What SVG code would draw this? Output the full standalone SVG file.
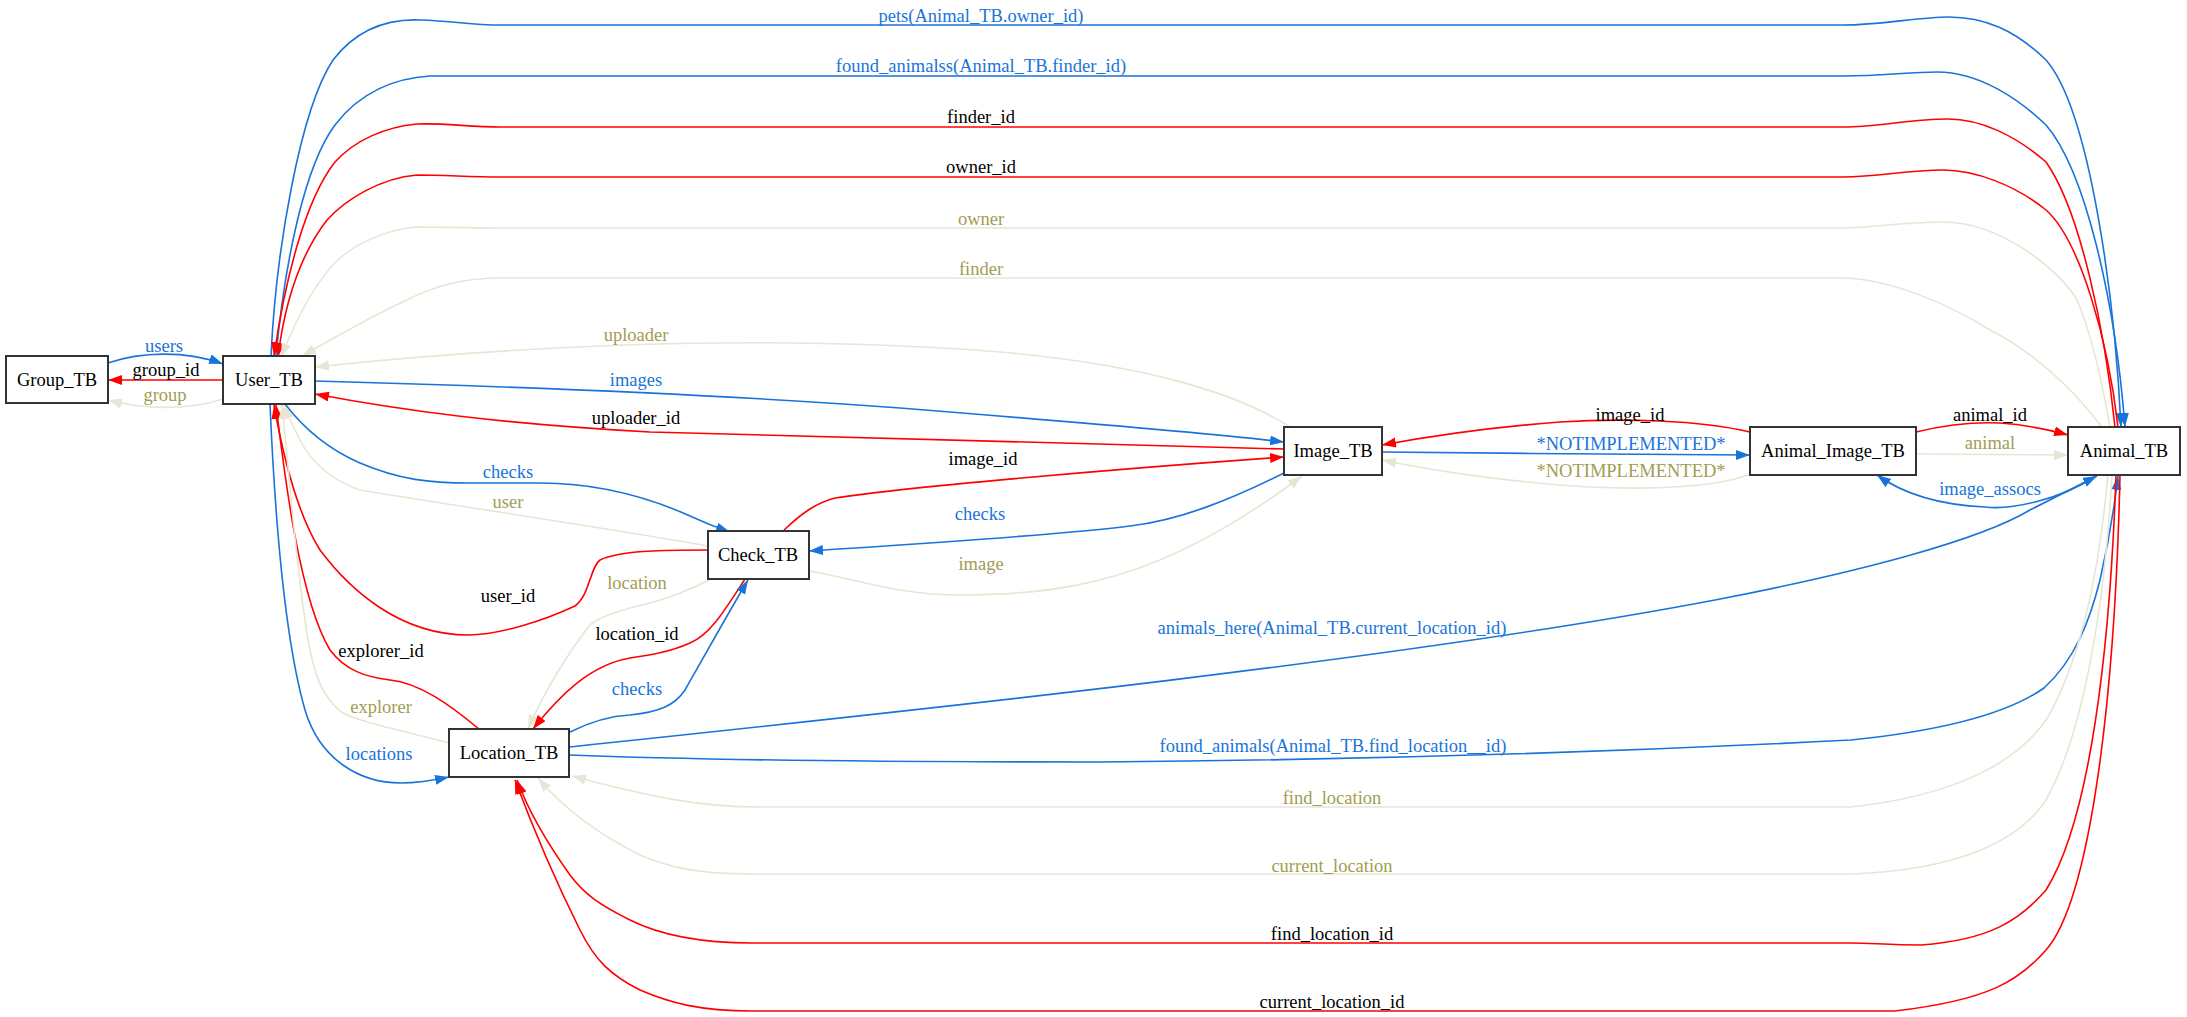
<svg xmlns="http://www.w3.org/2000/svg" width="2187" height="1017" viewBox="0 0 2187 1017">
<style>
.n rect{fill:#fff;stroke:#333;stroke-width:2}
text{font-family:"Liberation Serif","Times New Roman",serif;font-size:18.5px;text-anchor:middle}
.n text{fill:#000}
.e path{fill:none;stroke-width:1.6}
.b{stroke:#1874DA}.r{stroke:#FF0000}.y{stroke:#E6E6D3}
.tb{fill:#1874DA}.tr{fill:#000}.ty{fill:#A19D52}
.b{marker-end:url(#ab)}.r{marker-end:url(#ar)}.y{marker-end:url(#ay)}
</style>
<defs>
<marker id="ab" markerUnits="userSpaceOnUse" markerWidth="15" markerHeight="11" refX="14" refY="5" orient="auto"><path d="M0,0 L14,5 L0,10 z" fill="#1874DA"/></marker>
<marker id="ar" markerUnits="userSpaceOnUse" markerWidth="15" markerHeight="11" refX="14" refY="5" orient="auto"><path d="M0,0 L14,5 L0,10 z" fill="#FF0000"/></marker>
<marker id="ay" markerUnits="userSpaceOnUse" markerWidth="15" markerHeight="11" refX="14" refY="5" orient="auto"><path d="M0,0 L14,5 L0,10 z" fill="#E6E6D3"/></marker>
</defs>
<rect width="2187" height="1017" fill="#fff"/>
<g id="connectors" class="e">
<path class="b" d="M108,363 C140,352 185,350 223,364"/>
<path class="r" d="M223,380 L108,380"/>
<path class="y" d="M223,399 C190,410 145,410 108,400"/>
<path class="b" d="M271,356 C276,250 300,110 333,60 C360,25 395,19 420,20 C455,21 470,25 500,25 L1843,25 C1880,25 1920,17 1948,17 C1985,17 2015,30 2046,60 C2090,110 2115,300 2121,427"/>
<path class="b" d="M276,356 C285,260 305,165 335,125 C360,92 395,78 430,76 L1843,76 C1880,76 1910,72 1937,72 C1980,72 2020,100 2046,125 C2085,170 2115,300 2125,427"/>
<path class="r" d="M2115,427 C2105,330 2080,210 2046,162 C2015,135 1980,119 1948,119 C1910,119 1880,127 1843,127 L500,127 C470,127 445,123 417,124 C385,127 355,140 335,162 C305,200 285,280 274,356"/>
<path class="r" d="M2118,427 C2108,340 2080,240 2046,210 C2015,185 1975,170 1943,170 C1905,170 1880,177 1843,177 L500,177 C470,177 445,175 417,175 C380,178 345,200 327,220 C300,255 285,300 278,357"/>
<path class="y" d="M2110,427 C2100,370 2090,330 2077,300 C2060,270 2000,222 1943,222 C1900,222 1870,228 1843,228 L500,228 C465,228 440,227 417,227 C385,229 355,245 340,258 C320,276 300,310 281,357"/>
<path class="y" d="M2102,427 C2070,385 2030,350 1990,330 C1950,305 1890,278 1840,278 L500,278 C460,278 430,288 407,300 C380,312 330,340 302,356"/>
<path class="y" d="M1290,427 C1240,395 1150,365 1000,352 C850,340 700,342 600,346 C500,350 400,358 315,367"/>
<path class="b" d="M315,381 C500,386 700,393 900,408 C1050,420 1200,432 1284,442"/>
<path class="r" d="M1284,449 C1000,443 800,438 650,432 C500,424 400,410 315,394"/>
<path class="b" d="M285,404 C305,430 330,450 360,463 C400,480 430,483 470,483 L540,483 C600,483 650,498 690,516 C705,523 718,528 730,532"/>
<path class="y" d="M708,546 C620,530 450,505 360,490 C330,480 310,460 300,440 C292,425 288,415 284,405"/>
<path class="r" d="M708,550 C670,550 620,550 600,560 C590,567 590,595 575,606 C545,620 500,635 468,635 C400,635 350,590 320,550 C295,510 282,450 274,405"/>
<path class="r" d="M479,729 C450,705 420,683 390,680 C365,677 345,670 330,650 C300,600 285,480 276,405"/>
<path class="y" d="M449,743 C400,730 360,722 343,713 C325,700 315,680 308,640 C295,560 288,460 282,405"/>
<path class="b" d="M270,404 C275,520 285,640 305,710 C320,760 360,783 401,783 C420,783 435,780 449,777"/>
<path class="y" d="M711,579 C690,590 670,598 646,604 C620,610 600,616 590,625 C570,650 545,690 528,729"/>
<path class="r" d="M745,579 C725,610 710,635 690,643 C670,652 650,655 630,658 C590,665 560,695 533,729"/>
<path class="b" d="M570,732 C590,722 610,716 630,715 C660,712 675,705 685,690 C705,655 730,610 748,580"/>
<path class="r" d="M784,530 C800,515 815,503 835,498 C900,488 1100,470 1284,457"/>
<path class="b" d="M1284,473 C1230,500 1180,520 1130,526 C1050,536 900,545 809,551"/>
<path class="y" d="M809,571 C860,580 900,595 960,595 C1040,595 1100,585 1160,560 C1220,535 1270,500 1302,476"/>
<path class="r" d="M1750,432 C1700,420 1620,418 1560,422 C1480,428 1420,438 1382,445"/>
<path class="b" d="M1382,452 C1500,453 1650,455 1750,455"/>
<path class="y" d="M1750,474 C1720,487 1650,490 1590,487 C1500,482 1420,468 1382,460"/>
<path class="r" d="M1916,432 C1945,425 1975,422 2000,423 C2030,425 2050,430 2068,435"/>
<path class="y" d="M1916,454 L2068,455"/>
<path class="b" d="M2094,477 C2060,500 2010,510 1985,507 C1940,505 1905,495 1877,475"/>
<path class="b" d="M569,747 C900,712 1400,660 1715,600 C1860,572 1980,540 2030,510 C2060,495 2085,482 2097,476"/>
<path class="b" d="M569,755 C700,760 900,762 1100,762 C1350,760 1600,753 1851,740 C1950,730 2010,712 2044,688 C2075,660 2090,620 2100,580 C2108,545 2114,510 2118,476"/>
<path class="y" d="M2108,475 C2100,560 2085,650 2048,717 C2020,760 1960,795 1851,807 L760,807 C700,807 650,797 572,776"/>
<path class="y" d="M2112,475 C2105,600 2085,730 2046,800 C2020,840 1960,870 1851,874 L752,874 C700,874 670,868 640,855 C600,835 565,810 538,778"/>
<path class="r" d="M2116,475 C2110,650 2090,820 2046,890 C2020,920 1990,940 1921,945 C1890,945 1870,943 1851,943 L752,943 C700,943 660,935 630,920 C600,905 585,895 570,875 C545,840 528,810 517,780"/>
<path class="r" d="M2120,475 C2115,700 2090,900 2046,950 C2020,980 1990,1000 1895,1011 L752,1011 C700,1011 670,1003 640,990 C610,975 595,960 580,930 C550,870 530,820 515,780"/>
</g>
<g id="labels">
<text class="tb" x="164" y="352">users</text>
<text class="tr" x="166" y="376">group_id</text>
<text class="ty" x="165" y="401">group</text>
<text class="tb" x="981" y="22">pets(Animal_TB.owner_id)</text>
<text class="tb" x="981" y="72">found_animalss(Animal_TB.finder_id)</text>
<text class="tr" x="981" y="123">finder_id</text>
<text class="tr" x="981" y="173">owner_id</text>
<text class="ty" x="981" y="225">owner</text>
<text class="ty" x="981" y="275">finder</text>
<text class="ty" x="636" y="341">uploader</text>
<text class="tb" x="636" y="386">images</text>
<text class="tr" x="636" y="424">uploader_id</text>
<text class="tb" x="508" y="478">checks</text>
<text class="ty" x="508" y="508">user</text>
<text class="tr" x="508" y="602">user_id</text>
<text class="tr" x="381" y="657">explorer_id</text>
<text class="ty" x="381" y="713">explorer</text>
<text class="tb" x="379" y="760">locations</text>
<text class="ty" x="637" y="589">location</text>
<text class="tr" x="637" y="640">location_id</text>
<text class="tb" x="637" y="695">checks</text>
<text class="tr" x="983" y="465">image_id</text>
<text class="tb" x="980" y="520">checks</text>
<text class="ty" x="981" y="570">image</text>
<text class="tr" x="1630" y="421">image_id</text>
<text class="tb" x="1631" y="450">*NOTIMPLEMENTED*</text>
<text class="ty" x="1631" y="477">*NOTIMPLEMENTED*</text>
<text class="tr" x="1990" y="421">animal_id</text>
<text class="ty" x="1990" y="449">animal</text>
<text class="tb" x="1990" y="495">image_assocs</text>
<text class="tb" x="1332" y="634">animals_here(Animal_TB.current_location_id)</text>
<text class="tb" x="1333" y="752">found_animals(Animal_TB.find_location__id)</text>
<text class="ty" x="1332" y="804">find_location</text>
<text class="ty" x="1332" y="872">current_location</text>
<text class="tr" x="1332" y="940">find_location_id</text>
<text class="tr" x="1332" y="1008">current_location_id</text>
</g>
<g id="Group_TB" class="n"><rect x="6" y="356" width="102" height="47"/><text x="57" y="386">Group_TB</text></g>
<g id="User_TB" class="n"><rect x="223" y="356" width="92" height="48"/><text x="269" y="386">User_TB</text></g>
<g id="Image_TB" class="n"><rect x="1284" y="427" width="98" height="48"/><text x="1333" y="457">Image_TB</text></g>
<g id="Animal_Image_TB" class="n"><rect x="1750" y="427" width="166" height="48"/><text x="1833" y="457">Animal_Image_TB</text></g>
<g id="Animal_TB" class="n"><rect x="2068" y="427" width="112" height="48"/><text x="2124" y="457">Animal_TB</text></g>
<g id="Check_TB" class="n"><rect x="708" y="531" width="101" height="48"/><text x="758" y="561">Check_TB</text></g>
<g id="Location_TB" class="n"><rect x="449" y="729" width="120" height="48"/><text x="509" y="759">Location_TB</text></g>
</svg>
